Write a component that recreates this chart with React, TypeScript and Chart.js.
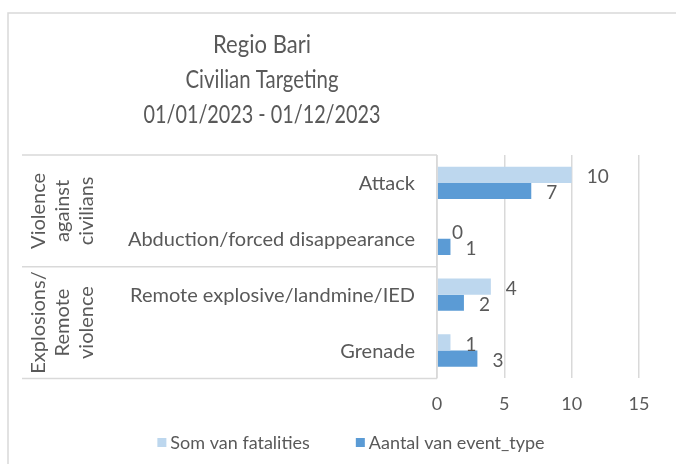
import React, { useEffect, useRef } from 'react';
import { Chart, registerables } from 'chart.js';

Chart.register(...registerables);

// ---------------- data ----------------
const titleLines = ['Regio Bari', 'Civilian Targeting', '01/01/2023 - 01/12/2023'];
const categories = ['Attack', 'Abduction/forced disappearance', 'Remote explosive/landmine/IED', 'Grenade'];
const groupLabels = [
  ['Violence', 'against', 'civilians'],
  ['Explosions/', 'Remote', 'violence'],
];
const groupFirstIndex = [0, 2];
const groupLastIndex = [1, 3];
const seriesNames = ['Som van fatalities', 'Aantal van event_type'];
const fatalities = [10, 0, 4, 1];
const eventCounts = [7, 1, 2, 3];
const xMin = 0;
const xMax = 15;
const xStep = 5;

// ---------------- style ----------------
const FONT = 'Lato, "Open Sans", sans-serif';
const TEXT = '#595959';
const LINE = '#d9d9d9';
const LIGHT = '#bdd7ee';
const DARK = '#5b9bd5';
const TITLE_WIDTHS = [98, 153, 237];

function setFont(ctx: CanvasRenderingContext2D, size: number, weight = 'normal') {
  ctx.font = `${weight} ${size}px ${FONT}`;
}

function drawText(
  ctx: CanvasRenderingContext2D,
  text: string,
  x: number,
  y: number,
  size: number,
  align: CanvasTextAlign,
  baseline: CanvasTextBaseline,
  sx = 1
) {
  ctx.save();
  setFont(ctx, size);
  ctx.fillStyle = TEXT;
  ctx.textAlign = align;
  ctx.textBaseline = baseline;
  ctx.translate(x, y);
  ctx.scale(sx, 1);
  ctx.fillText(text, 0, 0);
  ctx.restore();
}

const decorPlugin = {
  id: 'decor',
  beforeDraw(chart: any) {
    const { ctx } = chart;
    ctx.save();
    ctx.fillStyle = '#ffffff';
    ctx.fillRect(0, 0, chart.width, chart.height);
    ctx.strokeStyle = LINE;
    ctx.lineWidth = 1.5;
    ctx.strokeRect(8, 13, chart.width + 20, chart.height + 20);
    ctx.restore();
  },
  afterDraw(chart: any) {
    const { ctx, chartArea } = chart;
    const yScale = chart.scales.y;
    const left = chartArea.left;
    const top = chartArea.top;
    const bottom = chartArea.bottom;
    const boxLeft = 22;

    // title
    const titleSize = 25;
    const titleBaselines = [53, 88, 123];
    titleLines.forEach((t, i) => {
      ctx.save();
      setFont(ctx, titleSize);
      const w = ctx.measureText(t).width;
      ctx.restore();
      drawText(ctx, t, 262, titleBaselines[i], titleSize, 'center', 'alphabetic', TITLE_WIDTHS[i] / w);
    });

    // category box lines
    const bandHalf = (yScale.getPixelForValue(1) - yScale.getPixelForValue(0)) / 2;
    ctx.save();
    ctx.strokeStyle = LINE;
    ctx.lineWidth = 1.5;
    ctx.beginPath();
    const hLines = [top, ...groupLastIndex.map((idx) => yScale.getPixelForValue(idx) + bandHalf)];
    hLines.forEach((y) => {
      const yy = Math.min(Math.max(y, top), bottom);
      ctx.moveTo(boxLeft, yy);
      ctx.lineTo(left, yy);
    });
    ctx.moveTo(left, top);
    ctx.lineTo(left, bottom);
    ctx.stroke();
    ctx.restore();

    // category labels
    categories.forEach((c, i) => {
      drawText(ctx, c, left - 22, yScale.getPixelForValue(i) + 1, 20, 'right', 'middle');
    });

    // group labels (rotated)
    groupLabels.forEach((lines, g) => {
      const y0 = yScale.getPixelForValue(groupFirstIndex[g]) - bandHalf;
      const y1 = yScale.getPixelForValue(groupLastIndex[g]) + bandHalf;
      const cy = (y0 + y1) / 2;
      const lineH = 24;
      const cx0 = 63 - ((lines.length - 1) * lineH) / 2;
      lines.forEach((t, k) => {
        ctx.save();
        ctx.translate(cx0 + k * lineH, cy);
        ctx.rotate(-Math.PI / 2);
        drawText(ctx, t, 0, 0, 20, 'center', 'middle');
        ctx.restore();
      });
    });

    // data labels
    chart.data.datasets.forEach((ds: any, di: number) => {
      const meta = chart.getDatasetMeta(di);
      meta.data.forEach((el: any, i: number) => {
        const v = ds.data[i];
        drawText(ctx, String(v), el.x + 15, el.y + 2, 19, 'left', 'middle');
      });
    });

    // legend
    ctx.save();
    setFont(ctx, 18);
    const box = 9;
    const gapBoxText = 4;
    const itemGap = 46;
    const widths = seriesNames.map((n) => ctx.measureText(n).width);
    ctx.restore();
    const total = widths.reduce((a, w) => a + box + gapBoxText + w, 0) + itemGap * (seriesNames.length - 1);
    let x = 351 - total / 2;
    const ly = 443;
    const colors = [LIGHT, DARK];
    seriesNames.forEach((n, i) => {
      ctx.save();
      ctx.fillStyle = colors[i];
      ctx.fillRect(x, ly - box / 2 - 0.5, box, box);
      ctx.restore();
      drawText(ctx, n, x + box + gapBoxText, ly, 18, 'left', 'middle');
      x += box + gapBoxText + widths[i] + itemGap;
    });
  },
};

export default function App() {
  const ref = useRef<HTMLCanvasElement | null>(null);

  useEffect(() => {
    const canvas = ref.current;
    if (!canvas) return;
    const chart = new Chart(canvas, {
      type: 'bar',
      data: {
        labels: categories,
        datasets: [
          {
            label: seriesNames[0],
            data: fatalities,
            backgroundColor: LIGHT,
            categoryPercentage: 0.58,
            barPercentage: 1,
          },
          {
            label: seriesNames[1],
            data: eventCounts,
            backgroundColor: DARK,
            categoryPercentage: 0.58,
            barPercentage: 1,
          },
        ],
      },
      options: {
        indexAxis: 'y',
        responsive: false,
        animation: false,
        devicePixelRatio: 1,
        layout: { padding: { left: 437, right: 37, top: 155, bottom: 34 } },
        plugins: {
          legend: { display: false },
          title: { display: false },
          tooltip: { enabled: false },
        },
        scales: {
          y: { display: false },
          x: {
            min: xMin,
            max: xMax,
            ticks: {
              stepSize: xStep,
              color: TEXT,
              font: { family: FONT, size: 18 },
              padding: 15,
            },
            grid: { color: LINE, lineWidth: 1.5, drawTicks: false },
            border: { display: false },
          },
        },
      },
      plugins: [decorPlugin],
    });
    return () => chart.destroy();
  }, []);

  return (
    <div style={{ position: 'fixed', left: 0, top: 0, width: 676, height: 464, background: '#fff' }}>
      <canvas ref={ref} width={676} height={464} style={{ display: 'block' }} />
    </div>
  );
}
